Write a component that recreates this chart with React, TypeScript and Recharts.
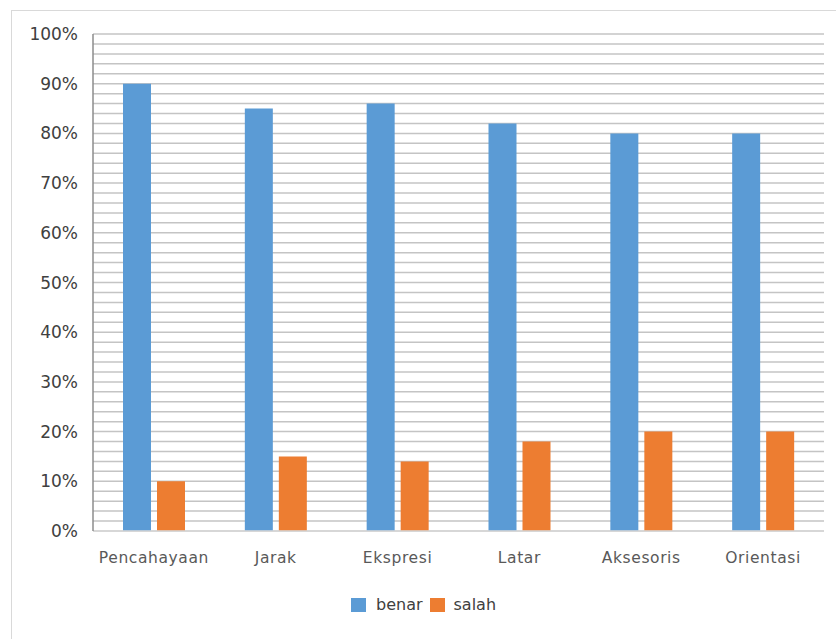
import React from 'react';
import { BarChart, Bar, XAxis, YAxis, CartesianGrid } from 'recharts';

const categories = ['Pencahayaan', 'Jarak', 'Ekspresi', 'Latar', 'Aksesoris', 'Orientasi'];
const benar = [0.90, 0.85, 0.86, 0.82, 0.80, 0.80];
const salah = [0.10, 0.15, 0.14, 0.18, 0.20, 0.20];
const yTicks = [0, 0.02, 0.04, 0.06, 0.08, 0.1, 0.12, 0.14, 0.16, 0.18, 0.2, 0.22, 0.24, 0.26, 0.28, 0.3, 0.32, 0.34, 0.36, 0.38, 0.4, 0.42, 0.44, 0.46, 0.48, 0.5, 0.52, 0.54, 0.56, 0.58, 0.6, 0.62, 0.64, 0.66, 0.68, 0.7, 0.72, 0.74, 0.76, 0.78, 0.8, 0.82, 0.84, 0.86, 0.88, 0.9, 0.92, 0.94, 0.96, 0.98, 1];

const data = categories.map((c, i) => ({ name: c, benar: benar[i], salah: salah[i] }));

const BLUE = '#5B9BD5';
const ORANGE = '#ED7D31';
const FONT = '"DejaVu Sans", sans-serif';

const fmt = (v: number) => {
  const p = Math.round(v * 100);
  return p % 10 === 0 ? `${p}%` : '';
};

const LegendContent = () => (
  <div style={{ display: 'flex', alignItems: 'center', fontFamily: FONT, fontSize: 16, color: '#404040' }}>
    <div style={{ width: 15, height: 14, background: BLUE, marginRight: 10 }} />
    <span style={{ marginRight: 7 }}>benar</span>
    <div style={{ width: 15, height: 14, background: ORANGE, marginRight: 9 }} />
    <span>salah</span>
  </div>
);

export default function App() {
  return (
    <div style={{ position: 'absolute', left: 0, top: 0, width: 836, height: 639, overflow: 'hidden', background: '#fff' }}>
      <div style={{ position: 'absolute', left: 11, top: 10, width: 900, height: 700, border: '1px solid #d9d9d9', boxSizing: 'border-box' }} />
      <div style={{ position: 'absolute', left: 0, top: 0 }}>
        <BarChart width={836} height={639} data={data} margin={{ top: 34, right: 12, bottom: 78, left: 0 }} barSize={28} barGap={6}>
          <CartesianGrid horizontal vertical={false} stroke="#c4c4c4" strokeWidth={1.5} />
          <XAxis dataKey="name" height={30} axisLine={{ stroke: '#d9d9d9', strokeWidth: 1.5 }} tickLine={false} tickSize={0} tickMargin={21}
            tick={{ fontFamily: FONT, fontSize: 15.5, fill: '#595959', letterSpacing: 0.6 }} interval={0} />
          <YAxis width={93} domain={[0, 1]} ticks={yTicks} interval={0} tickFormatter={fmt}
            axisLine={{ stroke: '#8c8c8c', strokeWidth: 1.5 }} tickLine={false} tickSize={0} tickMargin={15}
            tick={{ fontFamily: FONT, fontSize: 17, fill: '#404040' }} />
          <Bar dataKey="benar" fill={BLUE} isAnimationActive={false} />
          <Bar dataKey="salah" fill={ORANGE} isAnimationActive={false} />
        </BarChart>
      </div>
      <div style={{ position: 'absolute', left: 351, top: 595 }}>
        <LegendContent />
      </div>
    </div>
  );
}
